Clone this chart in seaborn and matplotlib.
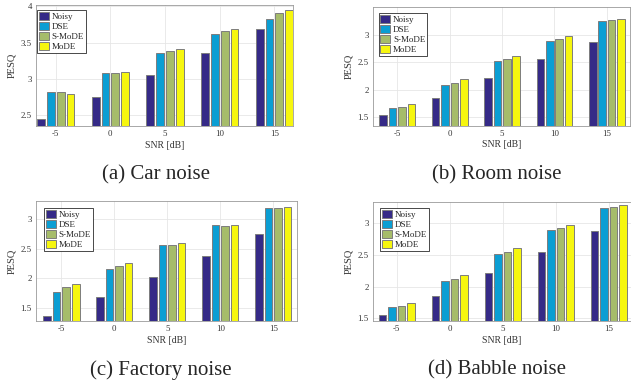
import matplotlib
matplotlib.use('Agg')
import matplotlib.pyplot as plt
import seaborn as sns
import pandas as pd

# dados
snr = ['-5', '0', '5', '10', '15']
metodos = ['Noisy', 'DSE', 'S-MoDE', 'MoDE']
cores = ['#352a87', '#0b9ed3', '#a6bc6a', '#f6f60f']

car_noisy = [2.445, 2.745, 3.047, 3.36, 3.69]
car_dse = [2.82, 3.08, 3.362, 3.618, 3.823]
car_smode = [2.82, 3.08, 3.387, 3.666, 3.916]
car_mode = [2.797, 3.093, 3.41, 3.69, 3.955]

room_noisy = [1.54, 1.85, 2.215, 2.553, 2.873]
room_dse = [1.67, 2.09, 2.52, 2.885, 3.24]
room_smode = [1.69, 2.12, 2.55, 2.92, 3.258]
room_mode = [1.74, 2.19, 2.605, 2.97, 3.285]

factory_noisy = [1.37, 1.68, 2.02, 2.37, 2.747]
factory_dse = [1.776, 2.16, 2.56, 2.9, 3.175]
factory_smode = [1.849, 2.21, 2.56, 2.885, 3.186]
factory_mode = [1.905, 2.252, 2.596, 2.9, 3.2]

babble_noisy = [1.548, 1.848, 2.21, 2.55, 2.873]
babble_dse = [1.68, 2.09, 2.516, 2.892, 3.238]
babble_smode = [1.70, 2.127, 2.548, 2.924, 3.254]
babble_mode = [1.748, 2.185, 2.606, 2.973, 3.286]

ticks_a = [2.5, 3, 3.5, 4]
ticks_bcd = [1.5, 2, 2.5, 3]

sns.set_style('white')
plt.rcParams['font.family'] = ['Liberation Serif', 'DejaVu Serif']

W, H = 631, 383
fig = plt.figure(figsize=(W / 100, H / 100), dpi=100)


def montar_df(series):
    linhas = []
    for m, vals in zip(metodos, series):
        for s, v in zip(snr, vals):
            linhas.append({'SNR': s, 'Metodo': m, 'PESQ': v})
    return pd.DataFrame(linhas)


def painel(px, series, ylim, yticks, xlim, leg_xy):
    # px = (esquerda, direita, topo, base) em pixels
    l, r, t, b = px
    ax = fig.add_axes([l / W, 1 - b / H, (r - l) / W, (b - t) / H])
    df = montar_df(series)
    sns.barplot(data=df, x='SNR', y='PESQ', hue='Metodo', order=snr,
                hue_order=metodos, palette=cores, saturation=1,
                width=0.72, gap=0.2, edgecolor='#7d7d7d', linewidth=0.7,
                ax=ax, zorder=3)
    ax.set_ylim(*ylim)
    ax.set_xlim(*xlim)
    ax.set_yticks(yticks)
    ax.set_yticklabels([f'{v:g}' for v in yticks])
    ax.grid(True, color='#e6e6e6', linewidth=0.6, zorder=0)
    ax.set_axisbelow(True)
    ax.tick_params(labelsize=6.3, colors='#333333', direction='in',
                   length=2, width=0.5, pad=3)
    for sp in ax.spines.values():
        sp.set_color('#9a9a9a')
        sp.set_linewidth(0.6)
    ax.set_xlabel('SNR [dB]', fontsize=7, color='#333333', labelpad=2)
    ax.set_ylabel('PESQ', fontsize=7.5, color='#333333', labelpad=3)
    ax.legend(loc='upper left', bbox_to_anchor=leg_xy, borderaxespad=0,
              fontsize=6.5, frameon=True, fancybox=False, edgecolor='black',
              framealpha=1, handlelength=1.1, handleheight=1.0,
              handletextpad=0.3, labelspacing=0.1, borderpad=0.2)
    ax.get_legend().get_frame().set_linewidth(0.5)
    return ax


painel((36, 293, 5, 126), [car_noisy, car_dse, car_smode, car_mode],
       (2.35, 4.02), ticks_a, (-0.36, 4.34), (0.005, 0.96))
painel((373, 630, 7, 125.5), [room_noisy, room_dse, room_smode, room_mode],
       (1.35, 3.5), ticks_bcd, (-0.46, 4.44), (0.022, 0.95))
painel((36, 297, 201, 321), [factory_noisy, factory_dse, factory_smode, factory_mode],
       (1.28, 3.3), ticks_bcd, (-0.48, 4.45), (0.032, 0.94))
painel((373, 631, 202, 321), [babble_noisy, babble_dse, babble_smode, babble_mode],
       (1.46, 3.33), ticks_bcd, (-0.45, 4.42), (0.027, 0.95))

legendas = [('(a) Car noise', 156, 175), ('(b) Room noise', 497, 175),
            ('(c) Factory noise', 161, 370), ('(d) Babble noise', 497, 370)]
for txt, x, y in legendas:
    fig.text(x / W, 1 - y / H, txt, ha='center', va='center', fontsize=15)

fig.savefig('out.png', dpi=100)
plt.close()
